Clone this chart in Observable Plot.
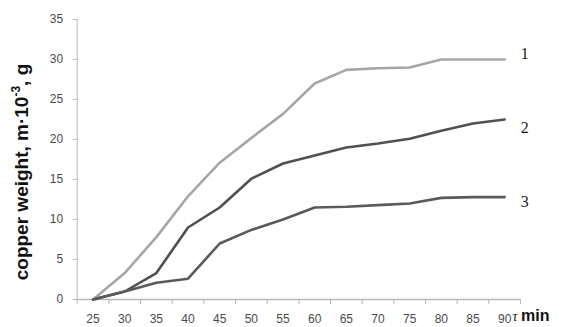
<!DOCTYPE html>
<html>
<head>
<meta charset="utf-8">
<script src="https://cdn.jsdelivr.net/npm/d3@7"></script>
<script src="https://cdn.jsdelivr.net/npm/@observablehq/plot@0.6"></script>
<style>
  html, body { margin: 0; padding: 0; background: #fff; }
  #chart { width: 574px; height: 327px; }
</style>
</head>
<body>
<div id="chart"></div>
<script>
const minutes = [25, 30, 35, 40, 45, 50, 55, 60, 65, 70, 75, 80, 85, 90];
const series1 = [0, 3.3, 7.8, 12.9, 17.1, 20.2, 23.2, 27.0, 28.7, 28.9, 29.0, 30.0, 30.0, 30.0];
const series2 = [0, 1.0, 3.3, 9.0, 11.5, 15.1, 17.0, 18.0, 19.0, 19.5, 20.1, 21.1, 22.0, 22.5];
const series3 = [0, 1.0, 2.1, 2.6, 7.0, 8.7, 10.0, 11.5, 11.6, 11.8, 12.0, 12.7, 12.8, 12.8];
const seriesNames = ["1", "2", "3"];
const seriesColors = ["#a6a6a6", "#505050", "#5a5a5a"];
const yTicks = [0, 5, 10, 15, 20, 25, 30, 35];

const allSeries = [series1, series2, series3];
const rows = allSeries.flatMap((vals, i) =>
  vals.map((v, j) => ({series: seriesNames[i], t: minutes[j], v}))
);
const lastRows = allSeries.map((vals, i) => ({series: seriesNames[i], t: minutes[minutes.length - 1], v: vals[vals.length - 1]}));
const step = minutes[1] - minutes[0];
const xMin = minutes[0] - step / 2;
const xMax = minutes[minutes.length - 1] + step / 2;
const boundaries = d3.range(minutes.length + 1).map(k => xMin + k * step);

const labelMark = (i, dy) => Plot.text([lastRows[i]], {
  x: "t", y: "v", text: "series", dx: 16, dy,
  fill: "#1a1a1a", fontSize: 16,
  fontFamily: "Liberation Serif, Times New Roman, serif", textAnchor: "start"
});

const plot = Plot.plot({
  width: 574,
  height: 327,
  marginLeft: 76.7,
  marginRight: 54,
  marginTop: 19,
  marginBottom: 28,
  style: {background: "#fff", fontFamily: "Liberation Sans, Arial, sans-serif"},
  x: {domain: [xMin, xMax]},
  y: {domain: [0, 35]},
  color: {domain: seriesNames, range: seriesColors},
  marks: [
    Plot.axisY({ticks: yTicks, tickSize: 4, tickPadding: 10, stroke: "#b8b8b8", color: "#4a4a4a", fontSize: 12, label: null}),
    Plot.axisX({ticks: boundaries, tickSize: 5, tickFormat: () => "", stroke: "#b8b8b8", label: null}),
    Plot.axisX({ticks: minutes, tickSize: 0, tickPadding: 15, color: "#4a4a4a", fontSize: 12, label: null}),
    Plot.ruleX([xMin], {stroke: "#b8b8b8", strokeWidth: 1}),
    Plot.ruleY([0], {stroke: "#b8b8b8", strokeWidth: 1.5}),
    Plot.line(rows, {x: "t", y: "v", z: "series", stroke: "series", strokeWidth: 2.6, strokeLinejoin: "round"}),
    labelMark(0, -6),
    labelMark(1, 8),
    labelMark(2, 5)
  ]
});

const svg = d3.select(plot);
// y-axis title
svg.append("text")
  .attr("transform", "translate(28,172) rotate(-90)")
  .attr("text-anchor", "middle")
  .attr("font-family", "Liberation Sans, Arial, sans-serif")
  .attr("font-size", 19)
  .attr("font-weight", "bold")
  .attr("fill", "#111")
  .call(t => {
    t.append("tspan").text("copper weight, m·10");
    t.append("tspan").attr("font-size", 12).attr("dy", -8).text("-3");
    t.append("tspan").attr("dy", 8).text(", g");
  });
// x-axis unit
const xt = svg.append("text")
  .attr("x", 531).attr("y", 321)
  .attr("fill", "#111");
xt.append("tspan").attr("font-family", "Liberation Serif, serif").attr("font-style", "italic").attr("font-size", 14).text("τ ");
xt.append("tspan").attr("font-family", "Liberation Sans, Arial, sans-serif").attr("font-weight", "bold").attr("font-size", 16).text("min");

document.getElementById("chart").appendChild(plot);
</script>
</body>
</html>
